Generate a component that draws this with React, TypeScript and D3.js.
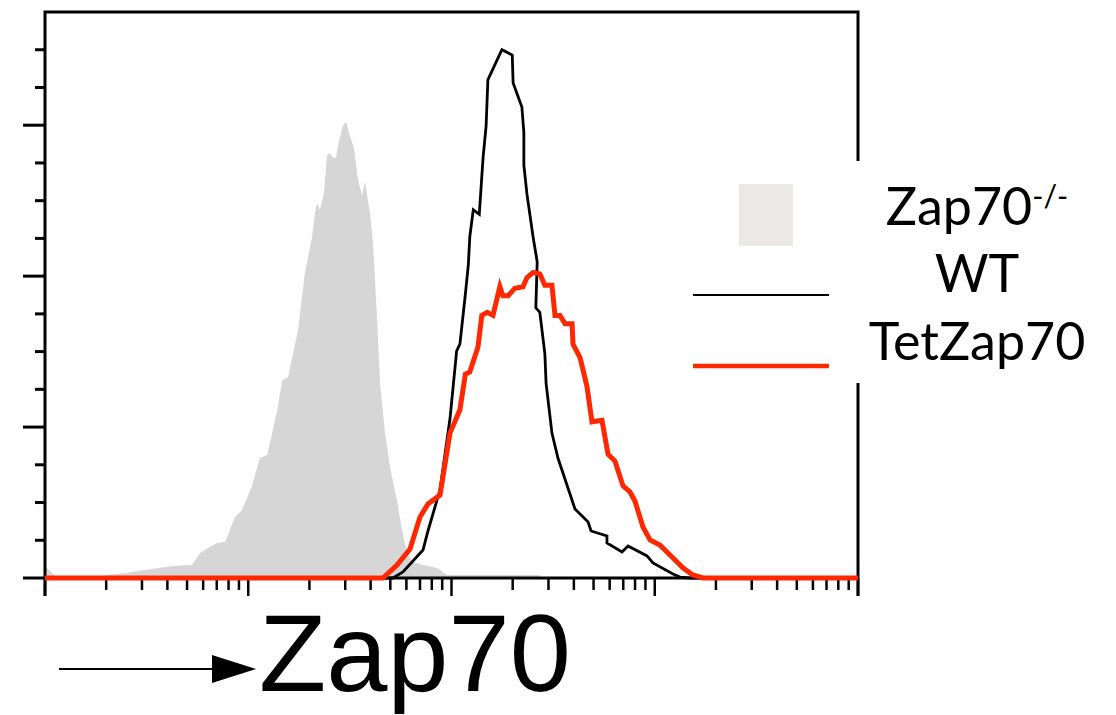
import * as d3 from "d3"
import React, { useEffect, useRef } from "react"

// Zap70 fluorescence intensity (log axis) vs. cell count (% of max)
const knockout: [number, number][] = [
  [1.0, 1.46], [1.05, 1.06], [1.12, 0.27], [1.19, 0], [1.86, 0], [2.02, 0.4], [2.48, 0.66],
  [3.07, 1.06], [4.26, 1.59], [5.29, 1.72], [5.79, 3.31], [6.48, 4.11], [7.02, 4.64],
  [7.69, 4.77], [8.61, 8.08], [9.32, 9.01], [10.4, 12.1], [11.4, 15.9], [12.4, 16.3],
  [13.9, 22.3], [14.7, 26.2], [15.7, 26.6], [17.6, 32.9], [19.0, 40.4], [20.6, 45.2],
  [21.3, 48.4], [21.8, 49.7], [22.5, 48.8], [23.6, 51.0], [24.4, 56.0], [25.2, 56.3],
  [26.1, 55.7], [27.0, 55.7], [28.0, 58.0], [29.3, 60.0], [30.3, 60.4], [31.3, 59.0],
  [33.1, 57.0], [34.7, 52.7], [36.3, 50.7], [37.5, 52.5], [39.7, 48.4], [41.1, 44.4],
  [43.0, 34.6], [44.5, 25.8], [47.1, 19.2], [49.8, 14.7], [53.9, 10.3], [57.1, 6.36],
  [60.4, 3.31], [64.7, 2.12], [72.4, 1.72], [84.9, 1.33], [95.0, 0.4], [272, 0.4], [279, 0]
]

const wildType: [number, number][] = [
  [1, 0], [51.5, 0], [57.7, 0.8], [72.4, 3.71], [76.6, 6.23], [87.8, 11.7], [98.3, 21.1],
  [106, 30.1], [110, 31.0], [117, 37.6], [121, 41.5], [123, 45.2], [128, 48.8], [137, 48.2],
  [143, 55.7], [148, 59.9], [151, 66.0], [164, 68.1], [177, 70.0], [199, 69.3], [201, 65.6],
  [222, 62.4], [227, 59.0], [227, 54.7], [235, 50.9], [252, 45.2], [264, 41.9], [260, 35.8],
  [272, 35.2], [288, 29.7], [292, 25.8], [312, 19.2], [334, 15.9], [405, 9.14], [470, 7.42],
  [486, 6.23], [582, 5.57], [582, 4.64], [690, 3.45], [739, 4.24], [916, 2.92], [980, 1.99],
  [1230, 0.53], [1330, 0.13], [1490, 0], [10000, 0]
]

const tetZap70: [number, number][] = [
  [1, 0], [46.0, 0], [53.9, 1.72], [62.5, 3.84], [70.0, 8.08], [76.6, 9.81], [87.8, 11.0],
  [98.3, 19.2], [110, 22.3], [117, 27.0], [123, 27.3], [135, 30.6], [141, 34.8], [150, 35.2],
  [160, 34.8], [173, 38.6], [179, 37.4], [190, 37.4], [205, 38.4], [225, 38.6], [235, 39.8],
  [252, 40.5], [272, 40.3], [288, 38.8], [312, 38.8], [323, 34.8], [342, 34.8], [362, 33.7],
  [392, 33.7], [396, 31.0], [429, 29.2], [464, 25.4], [491, 20.7], [550, 20.9], [589, 16.4],
  [637, 15.5], [698, 12.2], [755, 11.4], [799, 10.2], [875, 6.76], [948, 5.04], [1060, 4.37],
  [1230, 2.65], [1380, 1.33], [1540, 0.4], [1730, 0], [10000, 0]
]

const yMajor = [0, 20, 40, 60]
const yMinor = [5, 10, 15, 25, 30, 35, 45, 50, 55, 65, 70]
const decades = [1, 10, 100, 1000, 10000]

const legendLabels = ["Zap70", "WT", "TetZap70"]
const axisLabel = "Zap70"

export default function App() {
  const ref = useRef<SVGSVGElement>(null)

  useEffect(() => {
    const svg = d3.select(ref.current)
    svg.selectAll("*").remove()

    const x = d3.scaleLog().domain([1, 10000]).range([45, 858])
    const y = d3.scaleLinear().domain([0, 75]).range([578, 12])

    //filled knockout histogram
    const area = d3.area<[number, number]>()
      .x(d => x(d[0]))
      .y0(y(0))
      .y1(d => y(d[1]))
    svg.append("path")
      .datum(knockout)
      .attr("d", area)
      .attr("fill", "#d6d6d6")

    //frame and axes
    const frame = svg.append("g").attr("stroke", "#000").attr("stroke-width", 3).attr("fill", "none")
    frame.append("path")
      .attr("d", `M${x(1)},${y(0) + 18}V${y(75)}H${x(10000)}V${y(0) + 18}`)
    frame.append("line")
      .attr("x1", x(1)).attr("x2", x(10000))
      .attr("y1", y(0)).attr("y2", y(0))

    //y ticks
    frame.selectAll(".ymaj").data(yMajor).enter().append("line")
      .attr("x1", x(1) - 22).attr("x2", x(1))
      .attr("y1", d => y(d)).attr("y2", d => y(d))
    frame.selectAll(".ymin").data(yMinor).enter().append("line")
      .attr("x1", x(1) - 10).attr("x2", x(1))
      .attr("y1", d => y(d)).attr("y2", d => y(d))

    //x ticks, log decades
    const minors: number[] = []
    decades.slice(0, -1).forEach(dec => {
      for (let k = 2; k < 10; k++) minors.push(dec * k)
    })
    frame.selectAll(".xmaj").data(decades).enter().append("line")
      .attr("x1", d => x(d)).attr("x2", d => x(d))
      .attr("y1", y(0)).attr("y2", y(0) + 18)
      .attr("stroke-width", 2.5)
    frame.selectAll(".xmin").data(minors).enter().append("line")
      .attr("x1", d => x(d)).attr("x2", d => x(d))
      .attr("y1", y(0)).attr("y2", y(0) + 12)
      .attr("stroke-width", 2.5)

    //histogram lines
    const line = d3.line<[number, number]>()
      .x(d => x(d[0]))
      .y(d => y(d[1]))
    svg.append("path")
      .datum(wildType)
      .attr("d", line)
      .attr("fill", "none")
      .attr("stroke", "#000")
      .attr("stroke-width", 2.8)
    svg.append("path")
      .datum(tetZap70)
      .attr("d", line)
      .attr("fill", "none")
      .attr("stroke", "#ff2800")
      .attr("stroke-width", 5)

    //legend, sits on top of the right border
    const legend = svg.append("g")
    legend.append("rect")
      .attr("x", 690).attr("y", 161).attr("width", 426).attr("height", 222)
      .attr("fill", "#fff")
    legend.append("rect")
      .attr("x", 739).attr("y", 184).attr("width", 54).attr("height", 62)
      .attr("fill", "#ebe9e5")
    legend.append("line")
      .attr("x1", 693).attr("x2", 829).attr("y1", 295).attr("y2", 295)
      .attr("stroke", "#000").attr("stroke-width", 2)
    legend.append("line")
      .attr("x1", 693).attr("x2", 829).attr("y1", 366).attr("y2", 366)
      .attr("stroke", "#ff2800").attr("stroke-width", 4.5)

    const lt = legend.append("g")
      .attr("font-family", "Lato, 'Noto Sans', sans-serif")
      .attr("font-size", 52)
      .attr("text-anchor", "middle")
      .attr("fill", "#000")
    const t0 = lt.append("text").attr("x", 977).attr("y", 225)
    t0.append("tspan").text(legendLabels[0])
    t0.append("tspan").attr("font-size", 30).attr("dy", -18).text("-/-")
    lt.append("text").attr("x", 977).attr("y", 292).text(legendLabels[1])
    lt.append("text").attr("x", 977).attr("y", 360).text(legendLabels[2])

    //axis label with arrow
    svg.append("line")
      .attr("x1", 59).attr("x2", 214).attr("y1", 669).attr("y2", 669)
      .attr("stroke", "#000").attr("stroke-width", 2)
    svg.append("path")
      .attr("d", "M212,655L256,669L212,683Z")
      .attr("fill", "#000")
    svg.append("text")
      .attr("x", 259).attr("y", 691)
      .attr("font-family", "'Liberation Sans', Arial, sans-serif")
      .attr("font-size", 110)
      .attr("fill", "#000")
      .text(axisLabel)
  }, [])

  return (
    <svg
      ref={ref}
      width={1116}
      height={715}
      style={{ position: "absolute", left: 0, top: 0, background: "#fff" }}
    />
  )
}
